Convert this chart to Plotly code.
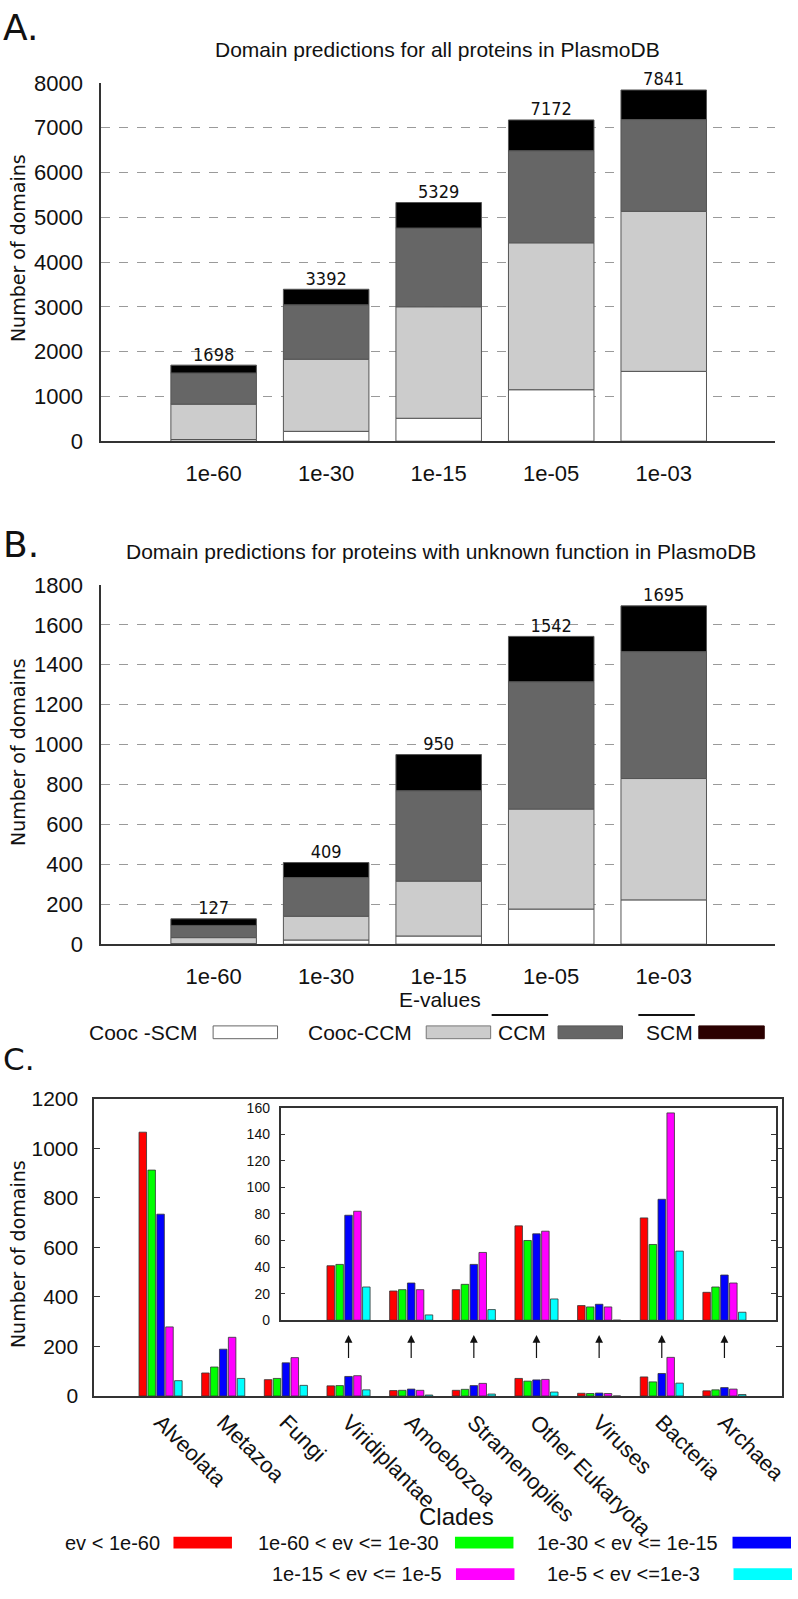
import numpy as np
import plotly.graph_objects as go

W, H = 798, 1599

# ---------------- data ----------------
evalues = ["1e-60", "1e-30", "1e-15", "1e-05", "1e-03"]
seg_names = ["Cooc -SCM", "Cooc-CCM", "CCM", "SCM"]
seg_colors = ["#ffffff", "#cccccc", "#666666", "#000000"]

all_cooc_scm = [37, 220, 512, 1149, 1559]
all_cooc_ccm = [790, 1610, 2489, 3280, 3573]
all_ccm = [696, 1215, 1757, 2057, 2049]
all_scm = [175, 347, 571, 686, 660]
all_totals = [1698, 3392, 5329, 7172, 7841]

unk_cooc_scm = [3, 21, 41, 176, 222]
unk_cooc_ccm = [30, 119, 275, 501, 608]
unk_ccm = [61, 194, 453, 638, 636]
unk_scm = [33, 75, 181, 227, 229]
unk_totals = [127, 409, 950, 1542, 1695]

clades = ["Alveolata", "Metazoa", "Fungi", "Viridiplantae", "Amoebozoa",
          "Stramenopiles", "Other Eukaryota", "Viruses", "Bacteria", "Archaea"]
ev_labels = ["ev < 1e-60", "1e-60 < ev <= 1e-30", "1e-30 < ev <= 1e-15",
             "1e-15 < ev <= 1e-5", "1e-5 < ev <=1e-3"]
ev_colors = ["#ff0000", "#00ff00", "#0000ff", "#ff00ff", "#00ffff"]
ev_lt60 = [1065, 93, 66, 41, 22, 23, 71, 11, 77, 21]
ev_60_30 = [912, 117, 71, 42, 23, 27, 60, 10, 57, 25]
ev_30_15 = [734, 189, 134, 79, 28, 42, 65, 12, 91, 34]
ev_15_5 = [279, 237, 155, 82, 23, 51, 67, 10, 156, 28]
ev_5_3 = [62, 71, 43, 25, 4, 8, 16, 0, 52, 6]
inset_first = 3  # inset shows Viridiplantae .. Archaea

# ---------------- helpers ----------------
def fx(px):
    return px / W

def fy(px):
    return 1 - px / H

ARIAL = "Liberation Sans, Arial, sans-serif"
DEJA = "DejaVu Sans, sans-serif"
DEJA_C = "DejaVu Sans Condensed, Liberation Sans Narrow, DejaVu Sans, sans-serif"

fig = go.Figure()

# ---------------- panels A and B (stacked via base) ----------------
xpos = list(range(len(evalues)))
panels = [
    ("x", "y", [all_cooc_scm, all_cooc_ccm, all_ccm, all_scm], all_totals),
    ("x2", "y2", [unk_cooc_scm, unk_cooc_ccm, unk_ccm, unk_scm], unk_totals),
]
for xa, ya, segs, totals in panels:
    base = np.zeros(len(evalues))
    for name, col, vals in zip(seg_names, seg_colors, segs):
        fig.add_trace(go.Bar(
            x=xpos, y=vals, base=base.tolist(), width=0.76, name=name,
            marker=dict(color=col, line=dict(color="#555555", width=1)),
            xaxis=xa, yaxis=ya, showlegend=False))
        base = base + np.array(vals)
    fig.add_trace(go.Scatter(
        x=xpos, y=totals, mode="text", text=[str(t) for t in totals],
        textposition="top center", cliponaxis=False,
        textfont=dict(family=DEJA_C, size=18, color="#111111"),
        xaxis=xa, yaxis=ya, showlegend=False))

# ---------------- panel C (grouped via offsets) ----------------
cpos = np.arange(len(clades))
series = [ev_lt60, ev_60_30, ev_30_15, ev_15_5, ev_5_3]
step, bw = 0.142, 0.12
for i, (lab, col, vals) in enumerate(zip(ev_labels, ev_colors, series)):
    off = (i - 2) * step - bw / 2
    fig.add_trace(go.Bar(
        x=cpos.tolist(), y=vals, width=bw, offset=off, name=lab,
        marker=dict(color=col, line=dict(color="#333333", width=0.8)),
        xaxis="x3", yaxis="y3", showlegend=False))
    fig.add_trace(go.Bar(
        x=cpos[inset_first:].tolist(), y=vals[inset_first:], width=bw, offset=off,
        marker=dict(color=col, line=dict(color="#333333", width=0.8)),
        xaxis="x4", yaxis="y4", showlegend=False))

# ---------------- axes ----------------
axline = dict(showline=True, linecolor="#333333", linewidth=1.5, zeroline=False)

# panel geometry in pixels
A_top, A_bot = 72, 436
B_top, B_bot = 582, 947
AB_left, AB_right = 102, 782
C_top, C_bot, C_left, C_right = 1104, 1406, 95, 789
I_top, I_bot, I_left, I_right = 1113, 1329, 283, 783
c_xrange = [-1.06, 9.92]
unit = (C_right - C_left) / (c_xrange[1] - c_xrange[0])
i_xrange = [c_xrange[0] + (I_left - C_left) / unit, c_xrange[0] + (I_right - C_left) / unit]

for xa, ya, top, bot, ymax in [("xaxis", "yaxis", A_top, A_bot, 8000),
                               ("xaxis2", "yaxis2", B_top, B_bot, 1800)]:
    fig.update_layout(**{
        xa: dict(domain=[fx(AB_left), fx(AB_right)], range=[-1.0, 4.99],
                 tickmode="array", tickvals=xpos, ticktext=evalues,
                 ticks="", ticklabelstandoff=12,
                 tickfont=dict(family=ARIAL, size=22, color="#111111"),
                 anchor=ya.replace("axis", ""), showgrid=False, **axline),
        ya: dict(domain=[fy(bot), fy(top)], range=[0, ymax],
                 dtick=1000 if ymax == 8000 else 200, ticks="", ticklabelstandoff=12,
                 tickfont=dict(family=ARIAL, size=22, color="#111111"),
                 showgrid=True, gridcolor="#9a9a9a", griddash="dash", gridwidth=1,
                 anchor=xa.replace("axis", ""), **axline),
    })

fig.update_layout(
    xaxis3=dict(domain=[fx(C_left), fx(C_right)], range=c_xrange, anchor="y3",
                tickmode="array", tickvals=cpos.tolist(), ticktext=clades,
                tickangle=45, ticks="", ticklabelstandoff=3,
                tickfont=dict(family=ARIAL, size=22, color="#111111"),
                showgrid=False, mirror=True, **axline),
    yaxis3=dict(domain=[fy(C_bot), fy(C_top)], range=[0, 1200], dtick=200,
                anchor="x3", ticks="inside", ticklen=6, tickcolor="#333333",
                ticklabelstandoff=10, mirror="ticks",
                tickfont=dict(family=ARIAL, size=21, color="#111111"),
                showgrid=False, **axline),
    xaxis4=dict(domain=[fx(I_left), fx(I_right)], range=i_xrange, anchor="y4",
                showticklabels=False, ticks="", showgrid=False, mirror=True,
                **axline),
    yaxis4=dict(domain=[fy(I_bot), fy(I_top)], range=[0, 160], dtick=20,
                anchor="x4", ticks="inside", ticklen=5, tickcolor="#333333",
                ticklabelstandoff=6, mirror="ticks",
                tickfont=dict(family=ARIAL, size=14, color="#111111"),
                showgrid=False, **axline),
)

# ---------------- text annotations ----------------
ann = []
def text(x, y, s, size, family=ARIAL, xanchor="center", yanchor="middle", angle=0):
    ann.append(dict(x=fx(x), y=fy(y), xref="paper", yref="paper", text=s,
                    showarrow=False, xanchor=xanchor, yanchor=yanchor,
                    textangle=angle, font=dict(family=family, size=size, color="#111111")))

text(1, 16, "A.", 36, DEJA, "left", "middle")
text(1, 541, "B.", 36, DEJA, "left", "middle")
text(1, 1064, "C.", 31, DEJA, "left", "middle")
text(441, 38, "Domain predictions for all proteins in PlasmoDB", 21)
text(445, 548, "Domain predictions for proteins with unknown function in PlasmoDB", 21)
text(18, 240, "Number of domains", 19, DEJA, angle=-90)
text(18, 752, "Number of domains", 19, DEJA, angle=-90)
text(18, 1262, "Number of domains", 19, DEJA, angle=-90)
text(444, 1003, "E-values", 21)
text(461, 1528, "Clades", 24)

shapes = []
# legend for A/B
legB_y = 1037
legB = [  # (text right edge, swatch left, swatch right, overline?)
    (202, 215, 280, False),
    (418, 430, 495, False),
    (553, 563, 628, True),
    (701, 705, 771, True),
]
legB_fill = ["#ffffff", "#cccccc", "#666666", "#2b0000"]
legB_line = ["#666666", "#777777", "#555555", "#2b0000"]
for (tr, sl, sr, ov), nm, fc, lc in zip(legB, seg_names, legB_fill, legB_line):
    text(tr, legB_y, nm, 21, xanchor="right")
    shapes.append(dict(type="rect", xref="paper", yref="paper",
                       x0=fx(sl), x1=fx(sr), y0=fy(1043), y1=fy(1030),
                       fillcolor=fc, line=dict(color=lc, width=1)))
    if ov:
        shapes.append(dict(type="line", xref="paper", yref="paper",
                           x0=fx(tr - 57), x1=fx(tr), y0=fy(1019), y1=fy(1019),
                           line=dict(color="#111111", width=2)))

# legend for C
legC = [  # (text right edge, swatch left, row y)
    (163, 175, 1555), (445, 459, 1555), (726, 739, 1555),
    (448, 460, 1587), (708, 740, 1587),
]
for (tr, sl, ry), lab, col in zip(legC, ev_labels, ev_colors):
    text(tr, ry, lab, 20, xanchor="right")
    shapes.append(dict(type="rect", xref="paper", yref="paper",
                       x0=fx(sl), x1=fx(sl + 59), y0=fy(ry + 6), y1=fy(ry - 6),
                       fillcolor=col, line=dict(width=0)))

# arrows from main bars up to inset
def val_c(px):
    return (C_bot - px) / (C_bot - C_top) * 1200
for p in cpos[inset_first:]:
    ann.append(dict(x=float(p), y=val_c(1344), ax=float(p), ay=val_c(1369),
                    xref="x3", yref="y3", axref="x3", ayref="y3", text="",
                    showarrow=True, arrowhead=2, arrowsize=1.3, arrowwidth=1.2,
                    arrowcolor="#111111"))

fig.update_layout(
    width=W, height=H, margin=dict(l=0, r=0, t=0, b=0),
    paper_bgcolor="white", plot_bgcolor="rgba(0,0,0,0)",
    barmode="overlay", showlegend=False,
    annotations=ann, shapes=shapes,
)

fig.write_html("out.html", config={"displayModeBar": False},
               post_script="document.body.style.margin='0';document.body.style.overflow='hidden';")
